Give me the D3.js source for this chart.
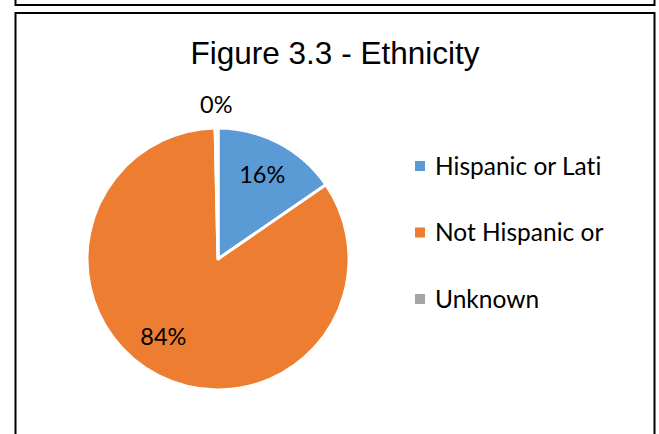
<!DOCTYPE html>
<html>
<head>
<meta charset="utf-8">
<script src="https://cdn.jsdelivr.net/npm/d3@7"></script>
<style>
  body { margin: 0; background: #fff; }
  svg { display: block; }
  text { font-variant-ligatures: none; font-feature-settings: "liga" 0; }
</style>
</head>
<body>
<svg id="chart" width="659" height="434"></svg>
<script>
// data
let categories = ['Hispanic or Lati', 'Not Hispanic or', 'Unknown'];
let values = [15.4, 84.25, 0.35];
let labels = ['16%', '84%', '0%'];
let colors = ['#5B9BD5', '#ED7D31', '#A5A5A5'];

let svg = d3.select('#chart');

// frame of the chart above, and this chart's frame
svg.append('rect')
    .attr('x', 15.5).attr('y', -20)
    .attr('width', 639).attr('height', 25)
    .attr('fill', 'none').attr('stroke', '#000').attr('stroke-width', 2);
svg.append('rect')
    .attr('x', 15.5).attr('y', 13)
    .attr('width', 639).attr('height', 440)
    .attr('fill', '#fff').attr('stroke', '#000').attr('stroke-width', 2);

svg.append('text')
    .attr('x', 335).attr('y', 64)
    .attr('text-anchor', 'middle')
    .style('font-family', '"Liberation Sans", Arial, sans-serif')
    .style('font-size', '31.5px')
    .attr('fill', '#000')
    .text('Figure 3.3 - Ethnicity');

let cx = 218, cy = 259, r = 131;

let pie = d3.pie().sort(null).value(d => d);
let arcs = pie(values);
let arc = d3.arc().innerRadius(0).outerRadius(r);

let g = svg.append('g').attr('transform', 'translate(' + cx + ',' + cy + ')');

g.selectAll('path.slice')
    .data(arcs)
    .enter().append('path')
    .attr('class', 'slice')
    .attr('d', arc)
    .attr('fill', (d, i) => colors[i])
    .attr('stroke', '#fff')
    .attr('stroke-width', 3)
    .attr('stroke-linejoin', 'round');

// data labels: inside for big slices, outside for the tiny one
let labelFont = 'Lato, "Noto Sans", sans-serif';
g.selectAll('text.lbl')
    .data(arcs)
    .enter().append('text')
    .attr('class', 'lbl')
    .attr('transform', function(d) {
        let a = (d.startAngle + d.endAngle) / 2;
        let rr = (d.endAngle - d.startAngle) < 0.1 ? 154 : 95;
        if (d.index === 1) a += 0.14;
        return 'translate(' + (rr * Math.sin(a)) + ',' + (-rr * Math.cos(a)) + ')';
    })
    .attr('text-anchor', 'middle')
    .attr('dy', '0.35em')
    .style('font-family', labelFont)
    .style('font-size', '23.5px')
    .attr('fill', '#000')
    .text((d, i) => labels[i]);

// legend
let legend = svg.append('g').attr('transform', 'translate(415,166)');
let item = legend.selectAll('g.item')
    .data(categories)
    .enter().append('g')
    .attr('class', 'item')
    .attr('transform', (d, i) => 'translate(0,' + (i * 66.5) + ')');

item.append('rect')
    .attr('x', 0).attr('y', -5)
    .attr('width', 10).attr('height', 10)
    .attr('fill', (d, i) => colors[i]);

item.append('text')
    .attr('x', 20).attr('y', 0)
    .attr('dy', '0.35em')
    .style('font-family', labelFont)
    .style('font-size', '24.5px')
    .attr('fill', '#000')
    .text(d => d);
</script>
</body>
</html>
